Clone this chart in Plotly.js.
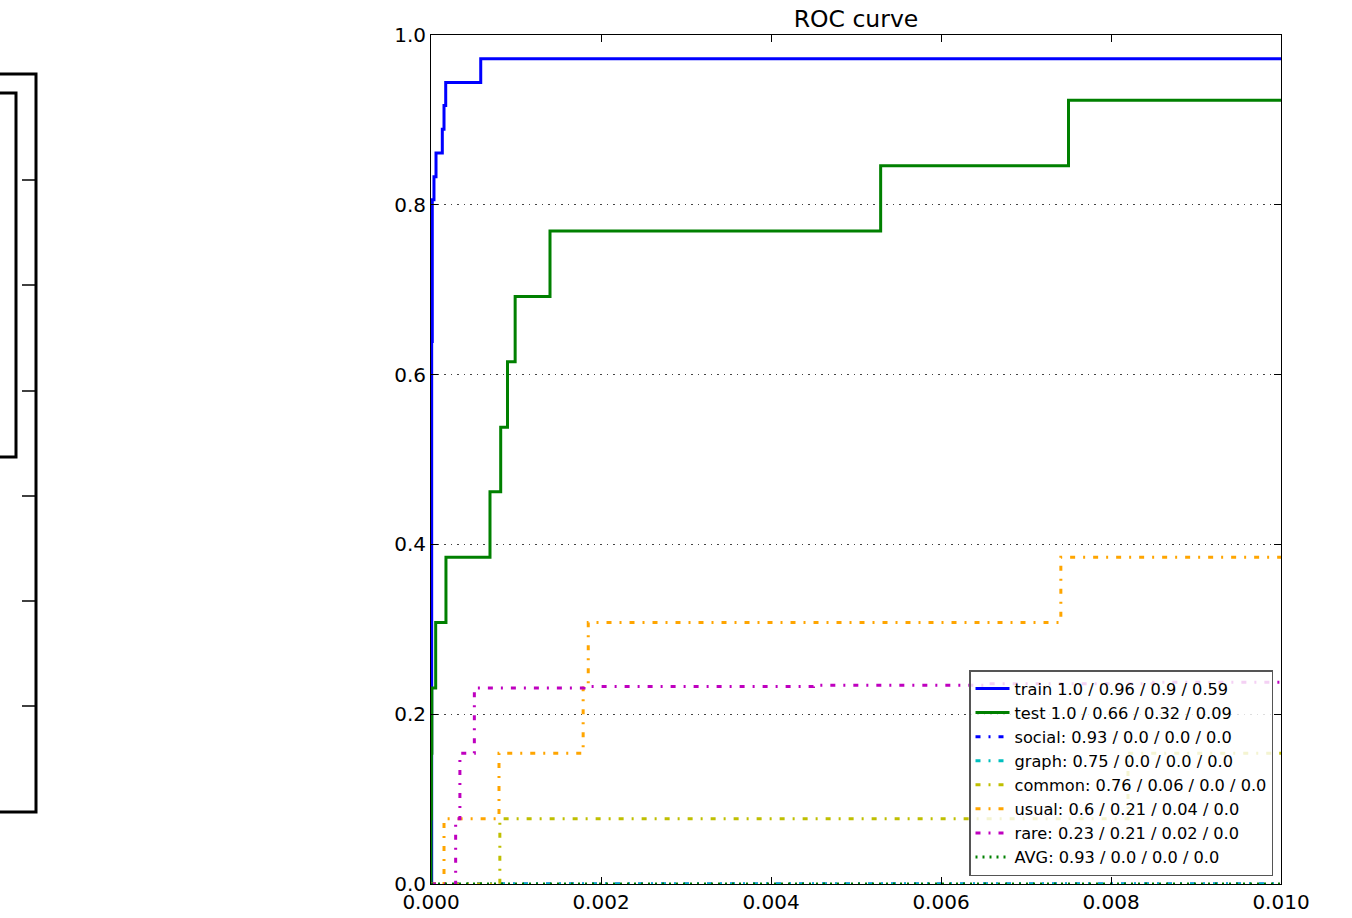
<!DOCTYPE html>
<html>
<head>
<meta charset="utf-8">
<script src="https://cdn.plot.ly/plotly-3.0.1.min.js"></script>
<style>
  html, body { margin: 0; padding: 0; background: #fff; }
  #chart { width: 1352px; height: 918px; }
</style>
</head>
<body>
<div id="chart"></div>
<script>
// ---- data ----
const trainFpr = [0, 0.000008, 0.000015, 0.000035, 0.000059, 0.000133, 0.000153, 0.000173, 0.000585, 0.01];
const trainTpr = [0, 0.639, 0.806, 0.833, 0.861, 0.889, 0.917, 0.944, 0.972, 0.972];

const testFpr = [0, 0, 0.000005, 0.00001, 0.000055, 0.000176, 0.000694, 0.00082, 0.0009, 0.00099, 0.0014, 0.00529, 0.0075, 0.01];
const testTpr = [0, 0.077, 0.154, 0.231, 0.308, 0.385, 0.462, 0.538, 0.615, 0.692, 0.769, 0.846, 0.923, 0.923];

const socialFpr = [0, 0.01];
const socialTpr = [0, 0];

const graphFpr = [0, 0.01];
const graphTpr = [0, 0];

const commonFpr = [0, 0.00081, 0.0082, 0.01];
const commonTpr = [0, 0.077, 0.154, 0.154];

const usualFpr = [0, 0.000153, 0.0008, 0.00179, 0.00185, 0.00741, 0.01];
const usualTpr = [0, 0.077, 0.154, 0.231, 0.308, 0.385, 0.385];

const rareFpr = [0, 0.00029, 0.00034, 0.00051, 0.0018, 0.0045, 0.0065, 0.0085, 0.01];
const rareTpr = [0, 0.077, 0.154, 0.231, 0.2325, 0.234, 0.236, 0.2375, 0.2375];

const avgFpr = [0, 0.01];
const avgTpr = [0, 0];

const seriesNames = [
  "train 1.0 / 0.96 / 0.9 / 0.59",
  "test 1.0 / 0.66 / 0.32 / 0.09",
  "social: 0.93 / 0.0 / 0.0 / 0.0",
  "graph: 0.75 / 0.0 / 0.0 / 0.0",
  "common: 0.76 / 0.06 / 0.0 / 0.0",
  "usual: 0.6 / 0.21 / 0.04 / 0.0",
  "rare: 0.23 / 0.21 / 0.02 / 0.0",
  "AVG: 0.93 / 0.0 / 0.0 / 0.0"
];

const xTickVals = [0, 0.002, 0.004, 0.006, 0.008, 0.010];
const xTickText = ["0.000", "0.002", "0.004", "0.006", "0.008", "0.010"];
const yTickVals = [0, 0.2, 0.4, 0.6, 0.8, 1.0];
const yTickText = ["0.0", "0.2", "0.4", "0.6", "0.8", "1.0"];

// ---- styles ----
const DASHDOT = "5px,8px,2px,8px";
const styles = [
  {color: "#0000ff", dash: "solid"},
  {color: "#008000", dash: "solid"},
  {color: "#0000ff", dash: DASHDOT},
  {color: "#00bfbf", dash: DASHDOT},
  {color: "#bfbf00", dash: DASHDOT},
  {color: "#ffa500", dash: DASHDOT},
  {color: "#bf00bf", dash: DASHDOT},
  {color: "#008000", dash: "2px,5px"}
];
const xs = [trainFpr, testFpr, socialFpr, graphFpr, commonFpr, usualFpr, rareFpr, avgFpr];
const ys = [trainTpr, testTpr, socialTpr, graphTpr, commonTpr, usualTpr, rareTpr, avgTpr];

const traces = xs.map((x, i) => ({
  type: "scatter",
  mode: "lines",
  x: x,
  y: ys[i],
  name: seriesNames[i],
  line: {color: styles[i].color, dash: styles[i].dash, width: 3, shape: "hv"}
}));

// ---- layout ----
const L = 431, R = 1281, T = 35, B = 884;
const px = v => (v - L) / (R - L);
const py = v => (B - v) / (B - T);

const shapes = [];
const blk = {color: "#000", width: 3};
// partial figure remnants at the far left
shapes.push({type: "rect", xref: "paper", yref: "paper", x0: px(-10), x1: px(36), y0: py(812), y1: py(74), line: blk, layer: "above"});
shapes.push({type: "rect", xref: "paper", yref: "paper", x0: px(-10), x1: px(16), y0: py(457), y1: py(93), line: blk, layer: "above"});
[180, 285, 391, 496, 601, 706].forEach(t => {
  shapes.push({type: "line", xref: "paper", yref: "paper", x0: px(22), x1: px(36), y0: py(t), y1: py(t), line: {color: "#000", width: 1.5}, layer: "above"});
});

const layout = {
  width: 1352,
  height: 918,
  margin: {l: L, r: 1352 - R, t: T, b: 918 - B, pad: 0},
  paper_bgcolor: "#fff",
  plot_bgcolor: "#fff",
  font: {family: "DejaVu Sans", size: 20, color: "#000"},
  title: {
    text: "ROC curve",
    font: {family: "DejaVu Sans", size: 23.5, color: "#000"},
    x: 0.5 * (L + R) / 1352, xanchor: "center", xref: "container",
    y: 1 - 19 / 918, yanchor: "middle", yref: "container"
  },
  showlegend: true,
  legend: {
    x: px(1273), xanchor: "right",
    y: py(876), yanchor: "bottom",
    bgcolor: "rgba(255,255,255,0.82)",
    bordercolor: "#555",
    borderwidth: 1.5,
    itemwidth: 34,
    font: {family: "DejaVu Sans", size: 16.2, color: "#000"},
    traceorder: "normal"
  },
  xaxis: {
    range: [0, 0.01],
    tickvals: xTickVals,
    ticktext: xTickText,
    showgrid: false,
    zeroline: false,
    showline: true,
    linecolor: "#000",
    linewidth: 1,
    mirror: "allticks",
    ticks: "inside",
    ticklen: 7,
    tickwidth: 1,
    tickcolor: "#000",
    tickfont: {family: "DejaVu Sans", size: 20, color: "#000"}
  },
  yaxis: {
    range: [0, 1],
    tickvals: yTickVals,
    ticktext: yTickText,
    showgrid: true,
    gridcolor: "#444",
    gridwidth: 1,
    griddash: "1.5px,5px",
    zeroline: false,
    showline: true,
    linecolor: "#000",
    linewidth: 1,
    mirror: "allticks",
    ticks: "inside",
    ticklen: 7,
    tickwidth: 1,
    tickcolor: "#000",
    tickfont: {family: "DejaVu Sans", size: 20, color: "#000"}
  },
  shapes: shapes
};

Plotly.newPlot("chart", traces, layout, {displayModeBar: false, staticPlot: true});
</script>
</body>
</html>
